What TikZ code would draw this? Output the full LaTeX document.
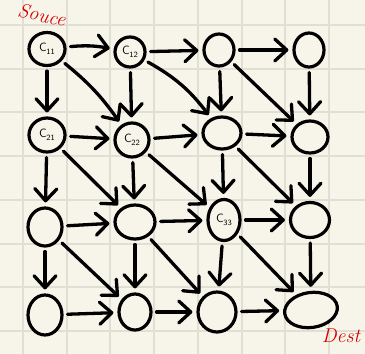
\documentclass[tikz,border=0pt]{standalone}
\usetikzlibrary{shapes.geometric,arrows.meta}
\definecolor{paper}{RGB}{247,245,234}
\definecolor{gridc}{RGB}{224,223,211}
\definecolor{inkred}{RGB}{215,0,0}
\newcommand{\lab}[2]{C\kern-0.5pt\raisebox{-2.5pt}{\footnotesize #1#2}}
\tikzset{
  cell/.style={ellipse,draw=black,line width=3.2pt,inner sep=0pt,fill=paper,font=\sffamily\large},
  link/.style={line width=3.3pt,line cap=round,-{Straight Barb[length=12pt,width=22pt,line cap=round,round]},shorten >=4pt,shorten <=4pt},
  hand/.style={text=inkred,font=\itshape\fontsize{20}{20}\selectfont,inner sep=1pt}
}
\begin{document}
\begin{tikzpicture}[x=1pt,y=-1pt]
\fill[paper] (0,0) rectangle (365,354);
\useasboundingbox (0,0) rectangle (365,354);
\foreach \k in {0,...,7}{
  \draw[gridc,line width=2pt] ({23+43.7*\k},0) -- ({23+43.7*\k},354);
  \draw[gridc,line width=2pt] (0,{25+43.7*\k}) -- (365,{25+43.7*\k});
}
\node[cell,minimum width=36pt,minimum height=33pt] (c11) at (47,49) {\lab11};
\node[cell,minimum width=30pt,minimum height=30pt] (c12) at (130,52) {\lab12};
\node[cell,minimum width=30pt,minimum height=32pt] (c13) at (219,50) {};
\node[cell,minimum width=30pt,minimum height=34pt] (c14) at (309,50) {};
\node[cell,minimum width=36pt,minimum height=34pt] (c21) at (47,135) {\lab21};
\node[cell,minimum width=34pt,minimum height=34pt] (c22) at (132,140) {\lab22};
\node[cell,minimum width=38pt,minimum height=32pt] (c23) at (222,133) {};
\node[cell,minimum width=36pt,minimum height=32pt] (c24) at (310,137) {};
\node[cell,minimum width=34pt,minimum height=38pt] (c31) at (45,227) {};
\node[cell,minimum width=40pt,minimum height=34pt] (c32) at (135,222) {};
\node[cell,minimum width=32pt,minimum height=41pt] (c33) at (224,220) {\lab33};
\node[cell,minimum width=39pt,minimum height=35pt] (c34) at (310,220) {};
\node[cell,minimum width=34pt,minimum height=40pt] (c41) at (45,315) {};
\node[cell,minimum width=32pt,minimum height=36pt] (c42) at (135,312) {};
\node[cell,minimum width=38pt,minimum height=40pt] (c43) at (217,312) {};
\node[cell,minimum width=53pt,minimum height=35pt,rotate=8] (c44) at (311,310) {};
\node[hand,rotate=-12] (src) at (42,15) {Souce};
\node[hand] (dst) at (341,336) {Dest};
% row 1
\draw[link] (c11) to[bend left=8] (c12);
\draw[link] (c11) -- (c21);
\draw[link] (c11) to[bend left=8] (c22);
\draw[link] (c12) -- (c13);
\draw[link] (c12) -- (c22);
\draw[link] (c12) to[bend left=12] (c23);
\draw[link] (c13) -- (c14);
\draw[link] (c13) -- (c23);
\draw[link] (c13) -- (c24);
\draw[link] (c14) -- (c24);
% row 2
\draw[link] (c21) -- (c22);
\draw[link] (c21) -- (c31);
\draw[link] (c21) -- (c32);
\draw[link] (c22) -- (c23);
\draw[link] (c22) -- (c32);
\draw[link] (c22) -- (c33);
\draw[link] (c23) -- (c24);
\draw[link] (c23) -- (c33);
\draw[link] (c23) -- (c34);
\draw[link] (c24) -- (c34);
% row 3
\draw[link] (c31) -- (c32);
\draw[link] (c31) -- (c41);
\draw[link] (c31) -- (c42);
\draw[link] (c32) -- (c33);
\draw[link] (c32) -- (c42);
\draw[link] (c32) -- (c43);
\draw[link] (c33) -- (c34);
\draw[link] (c33) -- (c43);
\draw[link] (c33) -- (c44);
\draw[link] (c34) -- (c44);
% row 4
\draw[link] (c41) -- (c42);
\draw[link] (c42) -- (c43);
\draw[link] (c43) -- (c44);
\end{tikzpicture}
\end{document}
